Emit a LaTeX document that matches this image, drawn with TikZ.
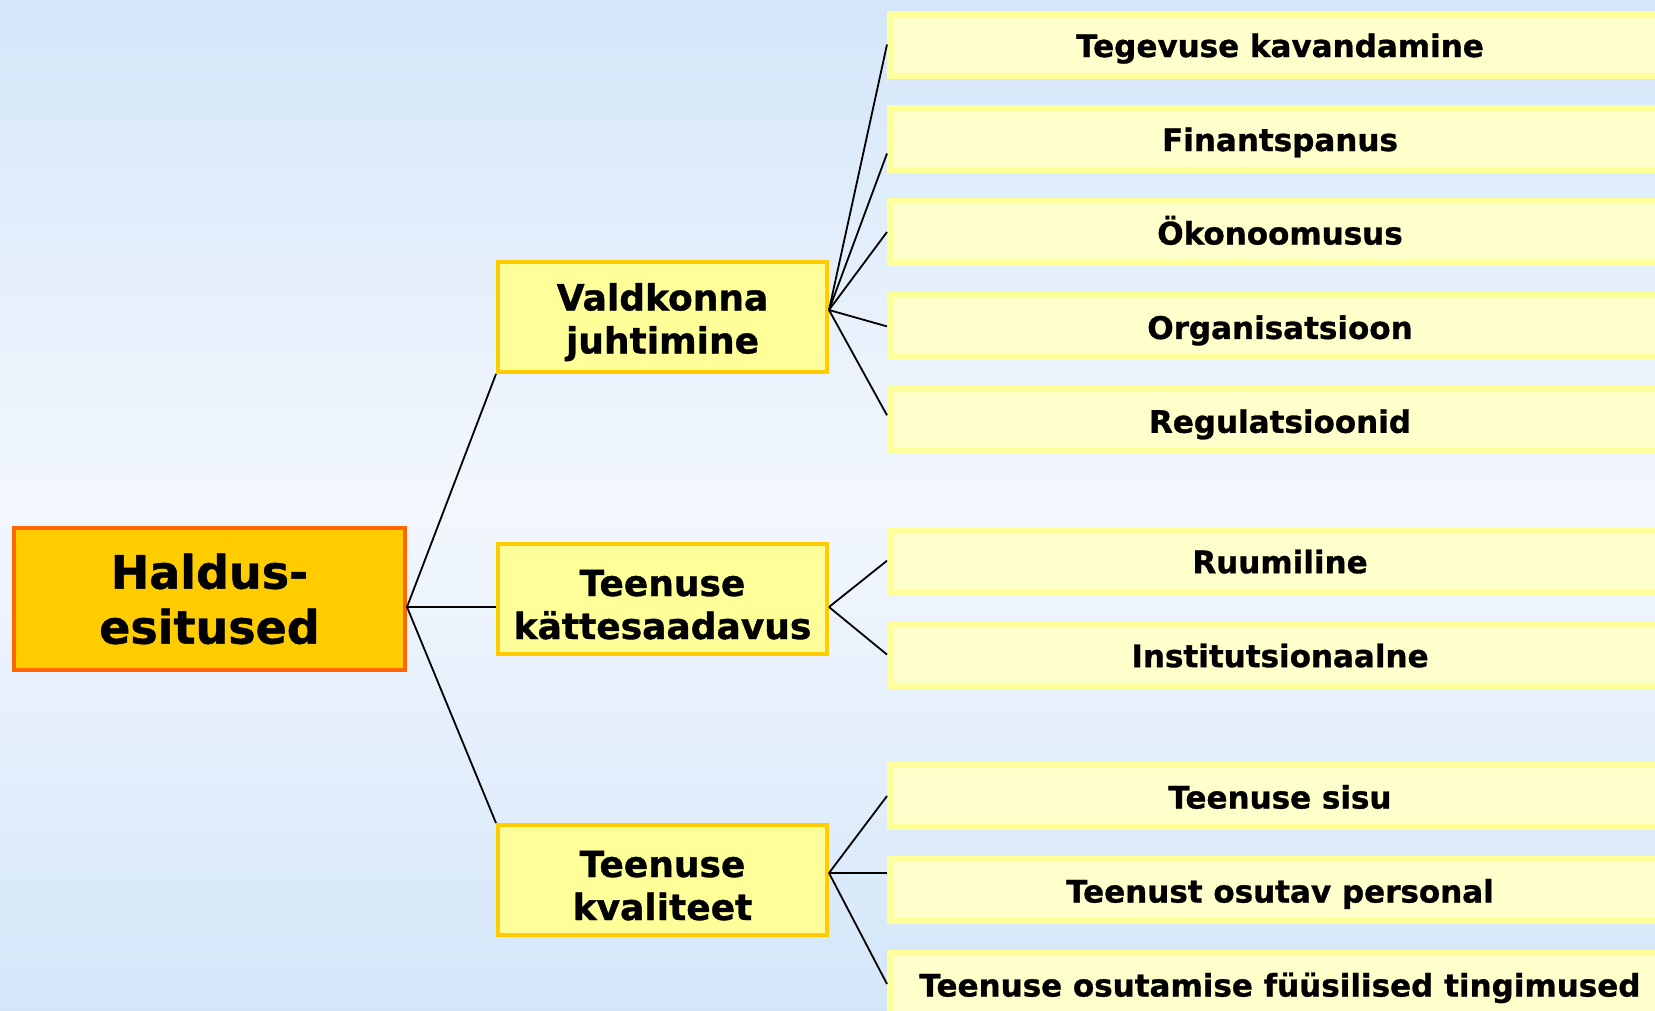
\documentclass[tikz,border=0pt]{standalone}
\usepackage{fontspec}
\setmainfont{DejaVu Sans}[BoldFeatures={FakeBold=1}]
\definecolor{bgtop}{HTML}{D4E6F9}
\definecolor{bgmid}{HTML}{F3F7FD}
\definecolor{bgbot}{HTML}{D3E6F9}
\definecolor{rootfill}{HTML}{FFCC00}
\definecolor{rootline}{HTML}{FF6600}
\definecolor{midfill}{HTML}{FFFF99}
\definecolor{midline}{HTML}{FFCC00}
\definecolor{leaffill}{HTML}{FFFFCC}
\definecolor{leafline}{HTML}{FFFF99}
\newcommand{\midstrut}{\rule{0pt}{37.5pt}}
\tikzset{
  rootbox/.style={draw=rootline, fill=rootfill, line width=4pt, minimum width=391pt, minimum height=142pt, inner sep=0pt, align=center, font=\fontsize{46}{55}\selectfont\bfseries},
  midbox/.style={draw=midline, fill=midfill, line width=4pt, minimum width=329pt, minimum height=110pt, inner sep=0pt, align=center, font=\fontsize{36}{43}\selectfont\bfseries},
  leafbox/.style={draw=leafline, fill=leaffill, line width=6pt, minimum width=780pt, minimum height=62pt, inner sep=0pt, text height=27pt, text depth=2pt, align=center, font=\fontsize{31}{35}\selectfont\bfseries},
  conn/.style={draw=black, line width=1.8pt}
}
\begin{document}
\begin{tikzpicture}[x=1pt, y=-1pt]
\useasboundingbox (0,0) rectangle (1655,1010);
\begin{scope}
\clip (0,0) rectangle (1655,1010);
\foreach \i in {0,...,100} {
  \pgfmathsetmacro\yy{\i*10.1}
  \pgfmathsetmacro\pa{min(100,\yy/5)}
  \pgfmathsetmacro\pb{max(0,(\yy-500)/5.1)}
  \colorlet{stripA}{bgmid!\pa!bgtop}
  \colorlet{stripB}{bgbot!\pb!stripA}
  \fill[stripB] (0,\yy) rectangle (1655,\yy+10.8);
}

\node[rootbox] (root) at (209.5,599) {Haldus-\\esitused};
\node[midbox] (val) at (662.5,317) {\midstrut Valdkonna\\juhtimine};
\node[midbox] (kat) at (662.5,599) {\midstrut Teenuse\\kättesaadavus};
\node[midbox] (kva) at (662.5,880) {\midstrut Teenuse\\kvaliteet};

\node[leafbox] (r1) at (1280,44.5) {Tegevuse kavandamine};
\node[leafbox] (r2) at (1280,138.5) {Finantspanus};
\node[leafbox] (r3) at (1280,232) {Ökonoomusus};
\node[leafbox] (r4) at (1280,326.4) {Organisatsioon};
\node[leafbox] (r5) at (1280,420.3) {Regulatsioonid};
\node[leafbox] (r6) at (1280,560.7) {Ruumiline};
\node[leafbox] (r7) at (1280,654.6) {Institutsionaalne};
\node[leafbox] (r8) at (1280,796) {Teenuse sisu};
\node[leafbox] (r9) at (1280,890) {Teenust osutav personal};
\node[leafbox] (r10) at (1280,984) {Teenuse osutamise füüsilised tingimused};

\coordinate (rs) at ([yshift=-8pt]root.east);
\coordinate (vs) at ([yshift=7pt]val.east);
\coordinate (ks) at ([yshift=-8pt]kat.east);
\coordinate (qs) at ([yshift=7pt]kva.east);

\draw[conn] (rs) -- (val.south west);
\draw[conn] (rs) -- ([yshift=-8pt]kat.west);
\draw[conn] (rs) -- (kva.north west);

\draw[conn] (vs) -- (r1.west);
\draw[conn] (vs) -- ([yshift=-15pt]r2.west);
\draw[conn] (vs) -- (r3.west);
\draw[conn] (vs) -- (r4.west);
\draw[conn] (vs) -- ([yshift=5pt]r5.west);

\draw[conn] (ks) -- (r6.west);
\draw[conn] (ks) -- (r7.west);

\draw[conn] (qs) -- (r8.west);
\draw[conn] (qs) -- ([yshift=17pt]r9.west);
\draw[conn] (qs) -- (r10.west);
\end{scope}
\end{tikzpicture}
\end{document}
